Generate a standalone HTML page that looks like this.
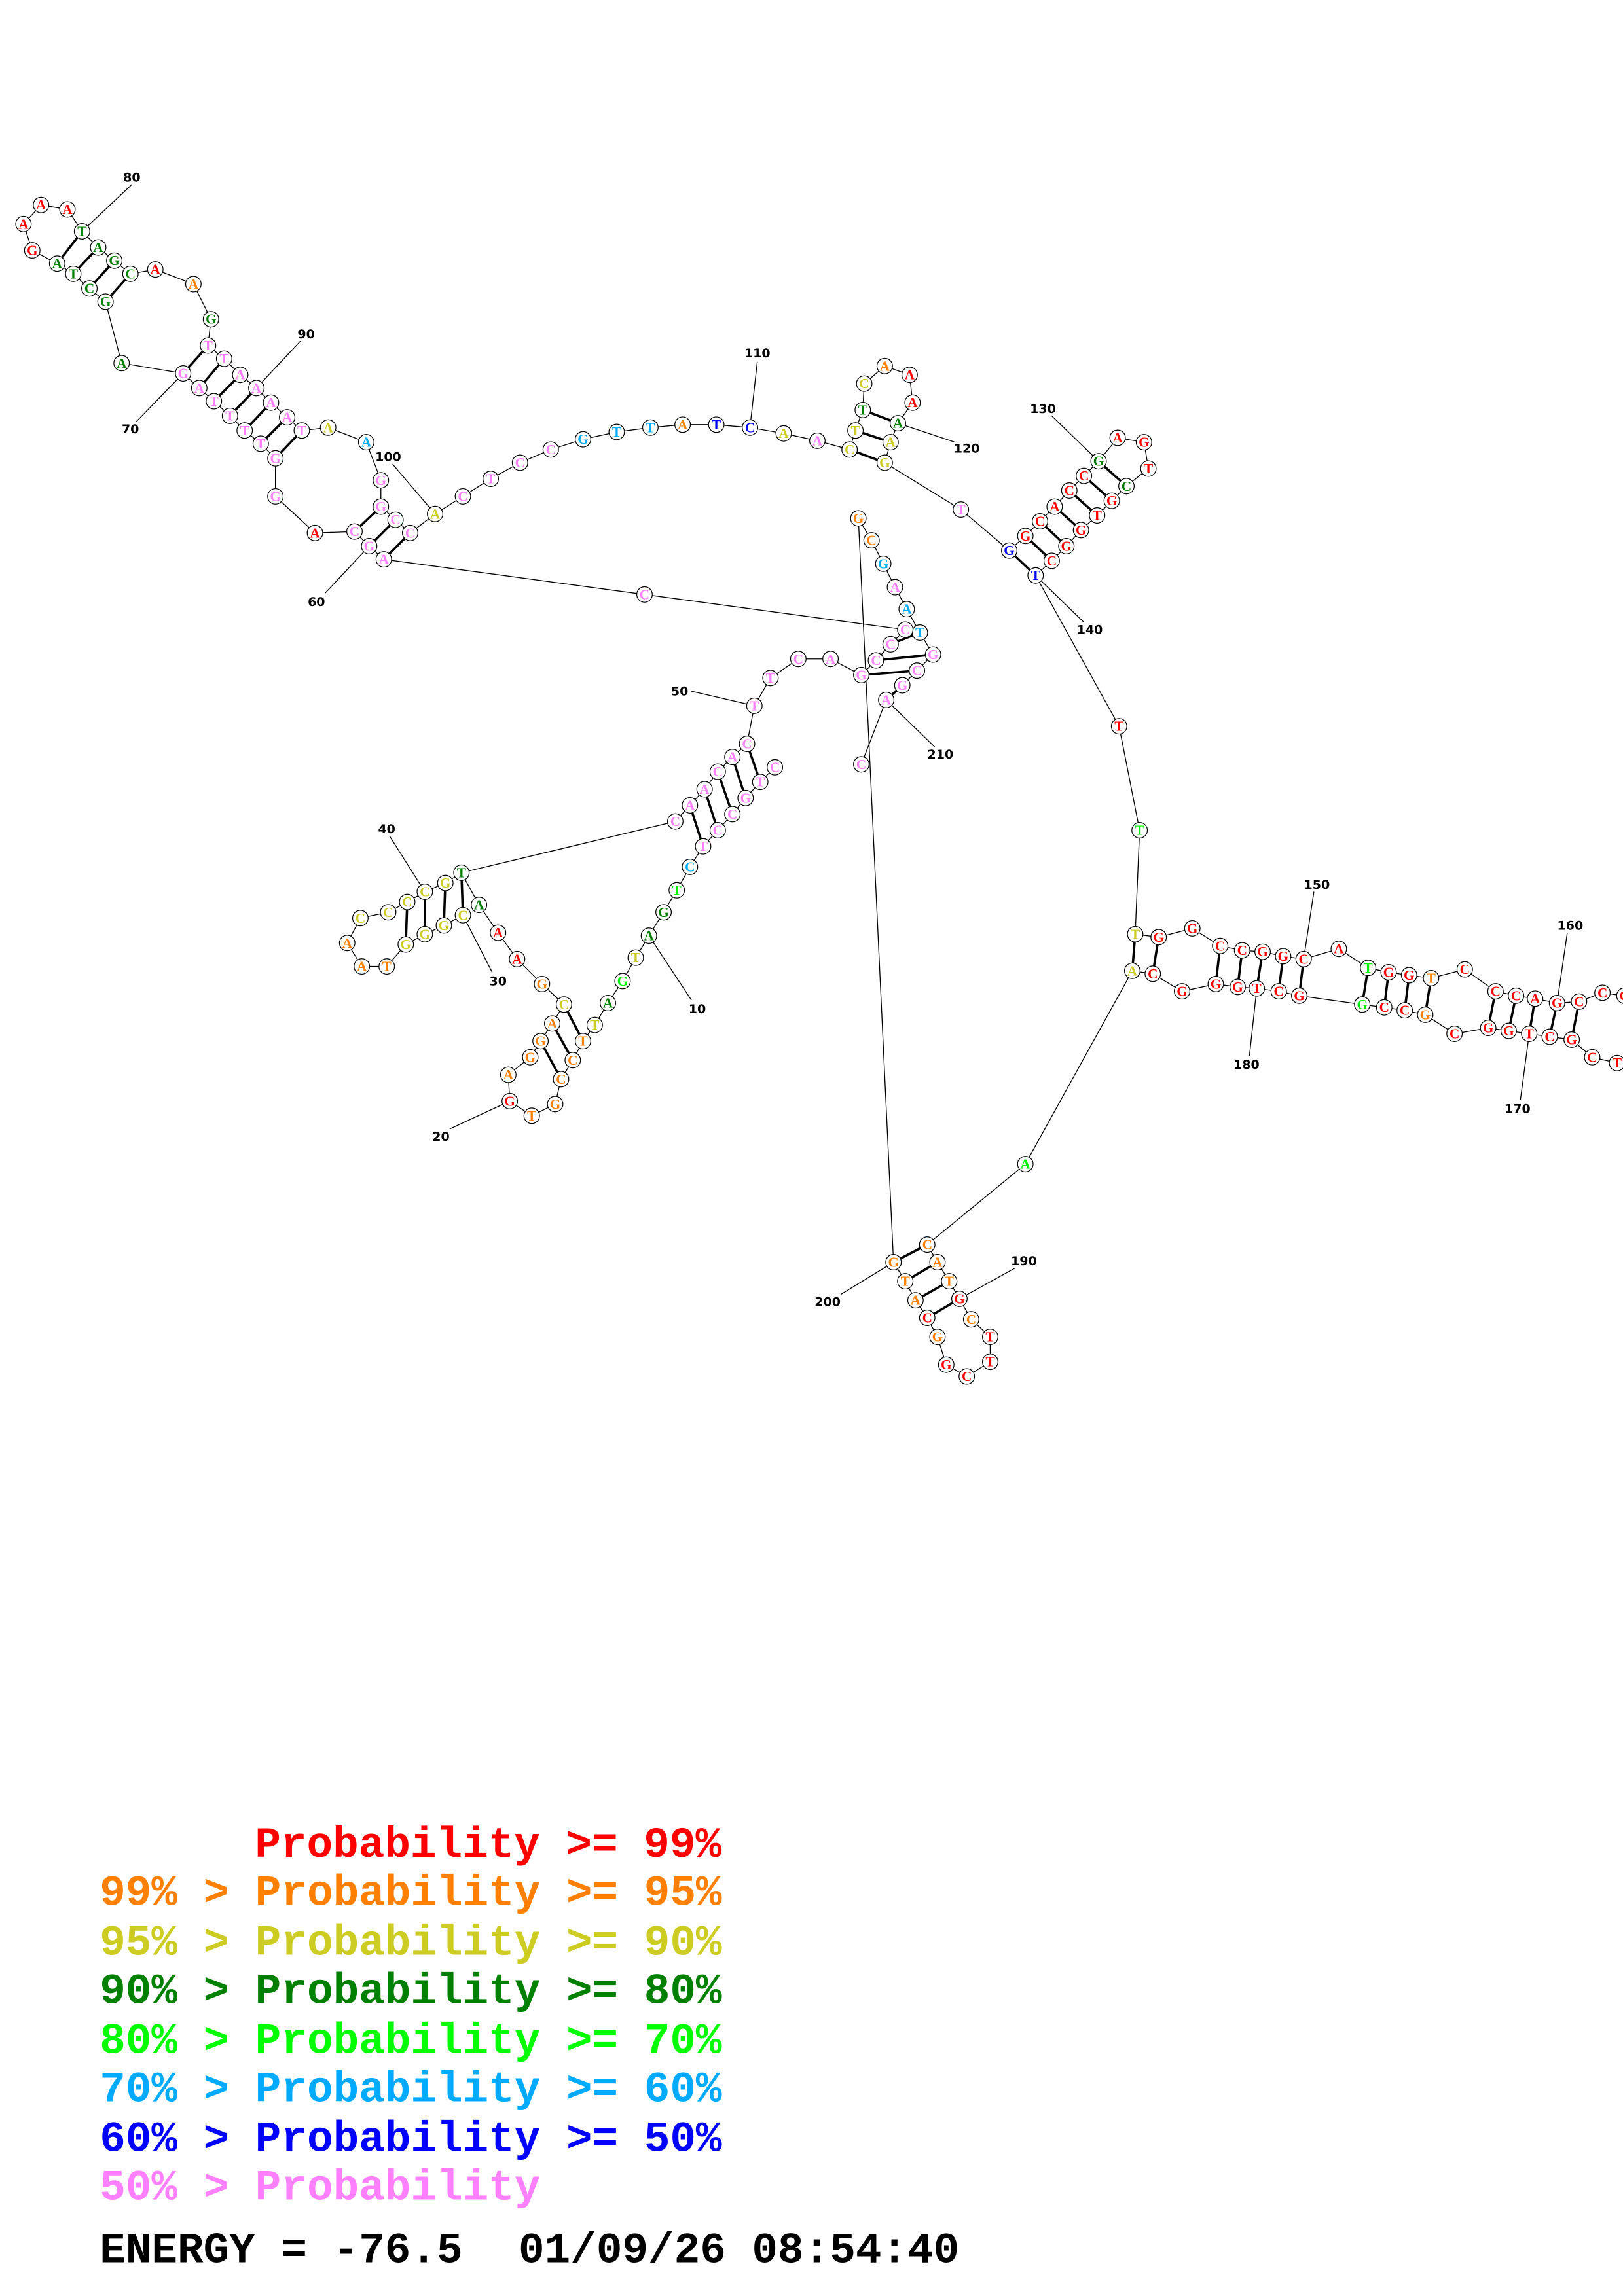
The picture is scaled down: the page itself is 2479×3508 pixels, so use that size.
<!DOCTYPE html>
<html><head><meta charset="utf-8"><style>
html,body{margin:0;padding:0;background:#fff}
svg{display:block}
.n circle{fill:#fff;stroke:#000;stroke-width:.55}
.n text{font-family:"Liberation Serif",serif;font-weight:bold;font-size:9.5px;text-anchor:middle;dominant-baseline:central}
.r{fill:#ff0000}.o{fill:#ff8000}.y{fill:#cccc22}.d{fill:#008000}.g{fill:#00ee00}.c{fill:#00aaff}.b{fill:#0000ff}.p{fill:#ff80ff}
.l{stroke:#000;stroke-width:.6;fill:none}
.bp{stroke:#000;stroke-width:1.6}
.lab{font-family:"DejaVu Sans","Liberation Sans",sans-serif;font-size:8.5px;font-weight:bold;text-anchor:middle}
.lg{font-family:"Liberation Mono",monospace;font-weight:bold;font-size:29.5px}
</style></head><body>
<svg width="2479" height="3508" viewBox="0 0 1108 1568" xmlns="http://www.w3.org/2000/svg">
<g class="l">
<polyline points="22,171 16,153 28,140 46,143 56,158"/>
<polyline points="22,171 39,180 50,187 61,197 72,206 83,248 125,255 136,265 146,274 157,284 167,294 178,303 188,313 188,339 215,364 242,363 252,373 262,382 440,406 618,430 628,432"/>
<polyline points="56,158 67,169 78,178 89,187 106,184 132,194 144,218 142,236 153,245 164,256 175,265 185,275 196,285 206,294 224,292 250,302 260,328 260,346 270,355 280,364 297,351 316,339 335,327 355,316 376,307 398,300 421,295 444,292 466,290 489,290 512,292 535,296 558,301 580,307 584,294 589,280 590,262 604,250 621,256 623,275 613,289 608,302 604,316 656,348 689,376 700,366 710,356 720,346 730,335 740,325 750,315 763,299 781,302 784,320 769,332 759,342 749,352 738,362 728,373 718,383 707,393 764,496 778,567 775,638 791,640 814,634 833,646 848,649 862,650 876,653 890,655 914,648 934,661 948,664 962,666 977,668 1000,662 1021,677 1035,680 1048,682 1063,685 1078,684 1094,678 1108,680"/>
<polyline points="1087,722 1073,710 1058,708 1044,706 1030,704 1016,702 993,706 973,693 959,690 945,688 930,686 887,680 873,677 858,675 845,674 830,672 807,677 787,665 773,663 700,795 633,850 640,862 648,875 655,887 663,901 676,913 676,930 660,940 646,932 640,913 633,900 625,888 618,875 610,862 586,354 595,369 603,385 611,401 619,416 628,432 637,447 626,458 616,468 605,478 588,522"/>
<polyline points="1087,722 1104,726"/>
<polyline points="608,440 598,451 588,461 567,450 545,450 526,463 515,482 510,508 519,534 529,524"/>
<polyline points="510,508 500,517 490,527 481,539 471,550 461,561 315,596 327,618 340,637 353,655 370,672 385,686 377,699 369,711 362,722 347,734 348,752 363,762 379,754 383,737 391,724 398,711 406,700 415,685 425,670 434,654 443,639 453,623 462,608 471,592 480,578 490,567 500,556 509,545 519,534"/>
<polyline points="315,596 304,603 290,609 278,616 265,623 246,627 237,644 247,660 264,660 277,645 290,638 303,632 316,625"/>
<polyline points="608,440 618,430"/>
<line x1="90" y1="126" x2="56" y2="158"/><line x1="205" y1="233" x2="175" y2="265"/><line x1="93" y1="288" x2="125" y2="255"/>
<line x1="268" y1="317" x2="297" y2="351"/><line x1="222" y1="405" x2="252" y2="373"/><line x1="517" y1="247" x2="512" y2="292"/>
<line x1="652" y1="302" x2="613" y2="289"/><line x1="718" y1="284" x2="750" y2="315"/><line x1="740" y1="425" x2="707" y2="393"/>
<line x1="472" y1="472" x2="515" y2="482"/><line x1="638" y1="510" x2="605" y2="478"/><line x1="266" y1="571" x2="290" y2="609"/>
<line x1="336" y1="664" x2="316" y2="625"/><line x1="472" y1="683" x2="443" y2="639"/><line x1="307" y1="771" x2="348" y2="752"/>
<line x1="897" y1="609" x2="890" y2="655"/><line x1="1070" y1="637" x2="1063" y2="685"/><line x1="853" y1="721" x2="858" y2="675"/>
<line x1="1038" y1="751" x2="1044" y2="706"/><line x1="693" y1="866" x2="655" y2="887"/><line x1="574" y1="884" x2="610" y2="862"/>
</g>
<g class="bp">
<line x1="56" y1="158" x2="39" y2="180"/><line x1="67" y1="169" x2="50" y2="187"/><line x1="78" y1="178" x2="61" y2="197"/><line x1="89" y1="187" x2="72" y2="206"/>
<line x1="142" y1="236" x2="125" y2="255"/><line x1="153" y1="245" x2="136" y2="265"/><line x1="164" y1="256" x2="146" y2="274"/><line x1="175" y1="265" x2="157" y2="284"/><line x1="185" y1="275" x2="167" y2="294"/><line x1="196" y1="285" x2="178" y2="303"/><line x1="206" y1="294" x2="188" y2="313"/>
<line x1="260" y1="346" x2="242" y2="363"/><line x1="270" y1="355" x2="252" y2="373"/><line x1="280" y1="364" x2="262" y2="382"/>
<line x1="584" y1="294" x2="608" y2="302"/><line x1="580" y1="307" x2="604" y2="316"/><line x1="589" y1="280" x2="613" y2="289"/>
<line x1="689" y1="376" x2="707" y2="393"/><line x1="700" y1="366" x2="718" y2="383"/><line x1="710" y1="356" x2="728" y2="373"/><line x1="720" y1="346" x2="738" y2="362"/><line x1="730" y1="335" x2="749" y2="352"/><line x1="740" y1="325" x2="759" y2="342"/><line x1="750" y1="315" x2="769" y2="332"/>
<line x1="775" y1="638" x2="773" y2="663"/><line x1="791" y1="640" x2="787" y2="665"/><line x1="833" y1="646" x2="830" y2="672"/><line x1="848" y1="649" x2="845" y2="674"/><line x1="862" y1="650" x2="858" y2="675"/><line x1="876" y1="653" x2="873" y2="677"/><line x1="890" y1="655" x2="887" y2="680"/>
<line x1="934" y1="661" x2="930" y2="686"/><line x1="948" y1="664" x2="945" y2="688"/><line x1="962" y1="666" x2="959" y2="690"/><line x1="977" y1="668" x2="973" y2="693"/>
<line x1="1021" y1="677" x2="1016" y2="702"/><line x1="1035" y1="680" x2="1030" y2="704"/><line x1="1048" y1="682" x2="1044" y2="706"/><line x1="1063" y1="685" x2="1058" y2="708"/><line x1="1078" y1="684" x2="1073" y2="710"/>
<line x1="633" y1="850" x2="610" y2="862"/><line x1="640" y1="862" x2="618" y2="875"/><line x1="648" y1="875" x2="625" y2="888"/><line x1="655" y1="887" x2="633" y2="900"/>
<line x1="628" y1="432" x2="608" y2="440"/><line x1="637" y1="447" x2="598" y2="451"/><line x1="626" y1="458" x2="588" y2="461"/><line x1="616" y1="468" x2="605" y2="478"/>
<line x1="510" y1="508" x2="519" y2="534"/><line x1="500" y1="517" x2="509" y2="545"/><line x1="490" y1="527" x2="500" y2="556"/><line x1="481" y1="539" x2="490" y2="567"/><line x1="471" y1="550" x2="480" y2="578"/>
<line x1="398" y1="711" x2="385" y2="686"/><line x1="391" y1="724" x2="377" y2="699"/><line x1="383" y1="737" x2="369" y2="711"/>
<line x1="315" y1="596" x2="316" y2="625"/><line x1="304" y1="603" x2="303" y2="632"/><line x1="290" y1="609" x2="290" y2="638"/><line x1="278" y1="616" x2="277" y2="645"/>
</g>
<g class="n">
<g transform="translate(16,153)"><circle r="5.3"/><text class="r">A</text></g>
<g transform="translate(28,140)"><circle r="5.3"/><text class="r">A</text></g>
<g transform="translate(46,143)"><circle r="5.3"/><text class="r">A</text></g>
<g transform="translate(22,171)"><circle r="5.3"/><text class="r">G</text></g>
<g transform="translate(56,158)"><circle r="5.3"/><text class="d">T</text></g>
<g transform="translate(67,169)"><circle r="5.3"/><text class="d">A</text></g>
<g transform="translate(39,180)"><circle r="5.3"/><text class="d">A</text></g>
<g transform="translate(78,178)"><circle r="5.3"/><text class="d">G</text></g>
<g transform="translate(50,187)"><circle r="5.3"/><text class="d">T</text></g>
<g transform="translate(89,187)"><circle r="5.3"/><text class="d">C</text></g>
<g transform="translate(61,197)"><circle r="5.3"/><text class="d">C</text></g>
<g transform="translate(72,206)"><circle r="5.3"/><text class="d">G</text></g>
<g transform="translate(106,184)"><circle r="5.3"/><text class="r">A</text></g>
<g transform="translate(132,194)"><circle r="5.3"/><text class="o">A</text></g>
<g transform="translate(144,218)"><circle r="5.3"/><text class="d">G</text></g>
<g transform="translate(83,248)"><circle r="5.3"/><text class="d">A</text></g>
<g transform="translate(125,255)"><circle r="5.3"/><text class="p">G</text></g>
<g transform="translate(142,236)"><circle r="5.3"/><text class="p">T</text></g>
<g transform="translate(153,245)"><circle r="5.3"/><text class="p">T</text></g>
<g transform="translate(136,265)"><circle r="5.3"/><text class="p">A</text></g>
<g transform="translate(164,256)"><circle r="5.3"/><text class="p">A</text></g>
<g transform="translate(146,274)"><circle r="5.3"/><text class="p">T</text></g>
<g transform="translate(175,265)"><circle r="5.3"/><text class="p">A</text></g>
<g transform="translate(185,275)"><circle r="5.3"/><text class="p">A</text></g>
<g transform="translate(157,284)"><circle r="5.3"/><text class="p">T</text></g>
<g transform="translate(167,294)"><circle r="5.3"/><text class="p">T</text></g>
<g transform="translate(196,285)"><circle r="5.3"/><text class="p">A</text></g>
<g transform="translate(206,294)"><circle r="5.3"/><text class="p">T</text></g>
<g transform="translate(178,303)"><circle r="5.3"/><text class="p">T</text></g>
<g transform="translate(188,313)"><circle r="5.3"/><text class="p">G</text></g>
<g transform="translate(224,292)"><circle r="5.3"/><text class="y">A</text></g>
<g transform="translate(250,302)"><circle r="5.3"/><text class="c">A</text></g>
<g transform="translate(188,339)"><circle r="5.3"/><text class="p">G</text></g>
<g transform="translate(215,364)"><circle r="5.3"/><text class="r">A</text></g>
<g transform="translate(260,328)"><circle r="5.3"/><text class="p">G</text></g>
<g transform="translate(260,346)"><circle r="5.3"/><text class="p">G</text></g>
<g transform="translate(242,363)"><circle r="5.3"/><text class="p">C</text></g>
<g transform="translate(270,355)"><circle r="5.3"/><text class="p">C</text></g>
<g transform="translate(252,373)"><circle r="5.3"/><text class="p">G</text></g>
<g transform="translate(280,364)"><circle r="5.3"/><text class="p">C</text></g>
<g transform="translate(262,382)"><circle r="5.3"/><text class="p">A</text></g>
<g transform="translate(297,351)"><circle r="5.3"/><text class="y">A</text></g>
<g transform="translate(316,339)"><circle r="5.3"/><text class="p">C</text></g>
<g transform="translate(335,327)"><circle r="5.3"/><text class="p">T</text></g>
<g transform="translate(355,316)"><circle r="5.3"/><text class="p">C</text></g>
<g transform="translate(376,307)"><circle r="5.3"/><text class="p">C</text></g>
<g transform="translate(398,300)"><circle r="5.3"/><text class="c">G</text></g>
<g transform="translate(421,295)"><circle r="5.3"/><text class="c">T</text></g>
<g transform="translate(444,292)"><circle r="5.3"/><text class="c">T</text></g>
<g transform="translate(466,290)"><circle r="5.3"/><text class="o">A</text></g>
<g transform="translate(489,290)"><circle r="5.3"/><text class="b">T</text></g>
<g transform="translate(512,292)"><circle r="5.3"/><text class="b">C</text></g>
<g transform="translate(535,296)"><circle r="5.3"/><text class="y">A</text></g>
<g transform="translate(558,301)"><circle r="5.3"/><text class="p">A</text></g>
<g transform="translate(580,307)"><circle r="5.3"/><text class="y">C</text></g>
<g transform="translate(604,316)"><circle r="5.3"/><text class="y">G</text></g>
<g transform="translate(608,302)"><circle r="5.3"/><text class="y">A</text></g>
<g transform="translate(584,294)"><circle r="5.3"/><text class="y">T</text></g>
<g transform="translate(589,280)"><circle r="5.3"/><text class="d">T</text></g>
<g transform="translate(613,289)"><circle r="5.3"/><text class="d">A</text></g>
<g transform="translate(623,275)"><circle r="5.3"/><text class="r">A</text></g>
<g transform="translate(621,256)"><circle r="5.3"/><text class="r">A</text></g>
<g transform="translate(604,250)"><circle r="5.3"/><text class="o">A</text></g>
<g transform="translate(590,262)"><circle r="5.3"/><text class="y">C</text></g>
<g transform="translate(656,348)"><circle r="5.3"/><text class="p">T</text></g>
<g transform="translate(689,376)"><circle r="5.3"/><text class="b">G</text></g>
<g transform="translate(707,393)"><circle r="5.3"/><text class="b">T</text></g>
<g transform="translate(718,383)"><circle r="5.3"/><text class="r">C</text></g>
<g transform="translate(700,366)"><circle r="5.3"/><text class="r">G</text></g>
<g transform="translate(728,373)"><circle r="5.3"/><text class="r">G</text></g>
<g transform="translate(710,356)"><circle r="5.3"/><text class="r">C</text></g>
<g transform="translate(738,362)"><circle r="5.3"/><text class="r">G</text></g>
<g transform="translate(720,346)"><circle r="5.3"/><text class="r">A</text></g>
<g transform="translate(749,352)"><circle r="5.3"/><text class="r">T</text></g>
<g transform="translate(730,335)"><circle r="5.3"/><text class="r">C</text></g>
<g transform="translate(759,342)"><circle r="5.3"/><text class="r">G</text></g>
<g transform="translate(740,325)"><circle r="5.3"/><text class="r">C</text></g>
<g transform="translate(769,332)"><circle r="5.3"/><text class="d">C</text></g>
<g transform="translate(750,315)"><circle r="5.3"/><text class="d">G</text></g>
<g transform="translate(784,320)"><circle r="5.3"/><text class="r">T</text></g>
<g transform="translate(781,302)"><circle r="5.3"/><text class="r">G</text></g>
<g transform="translate(763,299)"><circle r="5.3"/><text class="r">A</text></g>
<g transform="translate(764,496)"><circle r="5.3"/><text class="r">T</text></g>
<g transform="translate(778,567)"><circle r="5.3"/><text class="g">T</text></g>
<g transform="translate(775,638)"><circle r="5.3"/><text class="y">T</text></g>
<g transform="translate(773,663)"><circle r="5.3"/><text class="y">A</text></g>
<g transform="translate(791,640)"><circle r="5.3"/><text class="r">G</text></g>
<g transform="translate(787,665)"><circle r="5.3"/><text class="r">C</text></g>
<g transform="translate(814,634)"><circle r="5.3"/><text class="r">G</text></g>
<g transform="translate(807,677)"><circle r="5.3"/><text class="r">G</text></g>
<g transform="translate(833,646)"><circle r="5.3"/><text class="r">C</text></g>
<g transform="translate(830,672)"><circle r="5.3"/><text class="r">G</text></g>
<g transform="translate(848,649)"><circle r="5.3"/><text class="r">C</text></g>
<g transform="translate(845,674)"><circle r="5.3"/><text class="r">G</text></g>
<g transform="translate(862,650)"><circle r="5.3"/><text class="r">G</text></g>
<g transform="translate(858,675)"><circle r="5.3"/><text class="r">T</text></g>
<g transform="translate(876,653)"><circle r="5.3"/><text class="r">G</text></g>
<g transform="translate(873,677)"><circle r="5.3"/><text class="r">C</text></g>
<g transform="translate(890,655)"><circle r="5.3"/><text class="r">C</text></g>
<g transform="translate(887,680)"><circle r="5.3"/><text class="r">G</text></g>
<g transform="translate(914,648)"><circle r="5.3"/><text class="r">A</text></g>
<g transform="translate(934,661)"><circle r="5.3"/><text class="g">T</text></g>
<g transform="translate(930,686)"><circle r="5.3"/><text class="g">G</text></g>
<g transform="translate(948,664)"><circle r="5.3"/><text class="r">G</text></g>
<g transform="translate(945,688)"><circle r="5.3"/><text class="r">C</text></g>
<g transform="translate(962,666)"><circle r="5.3"/><text class="r">G</text></g>
<g transform="translate(959,690)"><circle r="5.3"/><text class="r">C</text></g>
<g transform="translate(977,668)"><circle r="5.3"/><text class="o">T</text></g>
<g transform="translate(973,693)"><circle r="5.3"/><text class="o">G</text></g>
<g transform="translate(1000,662)"><circle r="5.3"/><text class="r">C</text></g>
<g transform="translate(993,706)"><circle r="5.3"/><text class="r">C</text></g>
<g transform="translate(1021,677)"><circle r="5.3"/><text class="r">C</text></g>
<g transform="translate(1016,702)"><circle r="5.3"/><text class="r">G</text></g>
<g transform="translate(1035,680)"><circle r="5.3"/><text class="r">C</text></g>
<g transform="translate(1030,704)"><circle r="5.3"/><text class="r">G</text></g>
<g transform="translate(1048,682)"><circle r="5.3"/><text class="r">A</text></g>
<g transform="translate(1044,706)"><circle r="5.3"/><text class="r">T</text></g>
<g transform="translate(1063,685)"><circle r="5.3"/><text class="r">G</text></g>
<g transform="translate(1058,708)"><circle r="5.3"/><text class="r">C</text></g>
<g transform="translate(1078,684)"><circle r="5.3"/><text class="r">C</text></g>
<g transform="translate(1073,710)"><circle r="5.3"/><text class="r">G</text></g>
<g transform="translate(1094,678)"><circle r="5.3"/><text class="r">C</text></g>
<g transform="translate(1087,722)"><circle r="5.3"/><text class="r">C</text></g>
<g transform="translate(1104,726)"><circle r="5.3"/><text class="r">T</text></g>
<g transform="translate(1109,680)"><circle r="5.3"/><text class="r">C</text></g>
<g transform="translate(700,795)"><circle r="5.3"/><text class="g">A</text></g>
<g transform="translate(633,850)"><circle r="5.3"/><text class="o">C</text></g>
<g transform="translate(610,862)"><circle r="5.3"/><text class="o">G</text></g>
<g transform="translate(640,862)"><circle r="5.3"/><text class="o">A</text></g>
<g transform="translate(618,875)"><circle r="5.3"/><text class="o">T</text></g>
<g transform="translate(648,875)"><circle r="5.3"/><text class="o">T</text></g>
<g transform="translate(625,888)"><circle r="5.3"/><text class="o">A</text></g>
<g transform="translate(655,887)"><circle r="5.3"/><text class="r">G</text></g>
<g transform="translate(633,900)"><circle r="5.3"/><text class="r">C</text></g>
<g transform="translate(663,901)"><circle r="5.3"/><text class="o">C</text></g>
<g transform="translate(640,913)"><circle r="5.3"/><text class="o">G</text></g>
<g transform="translate(676,913)"><circle r="5.3"/><text class="r">T</text></g>
<g transform="translate(646,932)"><circle r="5.3"/><text class="r">G</text></g>
<g transform="translate(660,940)"><circle r="5.3"/><text class="r">C</text></g>
<g transform="translate(676,930)"><circle r="5.3"/><text class="r">T</text></g>
<g transform="translate(586,354)"><circle r="5.3"/><text class="o">G</text></g>
<g transform="translate(595,369)"><circle r="5.3"/><text class="o">C</text></g>
<g transform="translate(603,385)"><circle r="5.3"/><text class="c">G</text></g>
<g transform="translate(611,401)"><circle r="5.3"/><text class="p">A</text></g>
<g transform="translate(619,416)"><circle r="5.3"/><text class="c">A</text></g>
<g transform="translate(628,432)"><circle r="5.3"/><text class="c">T</text></g>
<g transform="translate(637,447)"><circle r="5.3"/><text class="p">G</text></g>
<g transform="translate(618,430)"><circle r="5.3"/><text class="p">C</text></g>
<g transform="translate(608,440)"><circle r="5.3"/><text class="p">C</text></g>
<g transform="translate(626,458)"><circle r="5.3"/><text class="p">C</text></g>
<g transform="translate(598,451)"><circle r="5.3"/><text class="p">C</text></g>
<g transform="translate(616,468)"><circle r="5.3"/><text class="p">G</text></g>
<g transform="translate(588,461)"><circle r="5.3"/><text class="p">G</text></g>
<g transform="translate(605,478)"><circle r="5.3"/><text class="p">A</text></g>
<g transform="translate(588,522)"><circle r="5.3"/><text class="p">C</text></g>
<g transform="translate(440,406)"><circle r="5.3"/><text class="p">C</text></g>
<g transform="translate(567,450)"><circle r="5.3"/><text class="p">A</text></g>
<g transform="translate(545,450)"><circle r="5.3"/><text class="p">C</text></g>
<g transform="translate(526,463)"><circle r="5.3"/><text class="p">T</text></g>
<g transform="translate(515,482)"><circle r="5.3"/><text class="p">T</text></g>
<g transform="translate(510,508)"><circle r="5.3"/><text class="p">C</text></g>
<g transform="translate(529,524)"><circle r="5.3"/><text class="p">C</text></g>
<g transform="translate(500,517)"><circle r="5.3"/><text class="p">A</text></g>
<g transform="translate(519,534)"><circle r="5.3"/><text class="p">T</text></g>
<g transform="translate(490,527)"><circle r="5.3"/><text class="p">C</text></g>
<g transform="translate(509,545)"><circle r="5.3"/><text class="p">G</text></g>
<g transform="translate(481,539)"><circle r="5.3"/><text class="p">A</text></g>
<g transform="translate(500,556)"><circle r="5.3"/><text class="p">C</text></g>
<g transform="translate(471,550)"><circle r="5.3"/><text class="p">A</text></g>
<g transform="translate(490,567)"><circle r="5.3"/><text class="p">C</text></g>
<g transform="translate(461,561)"><circle r="5.3"/><text class="p">C</text></g>
<g transform="translate(480,578)"><circle r="5.3"/><text class="p">T</text></g>
<g transform="translate(471,592)"><circle r="5.3"/><text class="c">C</text></g>
<g transform="translate(462,608)"><circle r="5.3"/><text class="g">T</text></g>
<g transform="translate(453,623)"><circle r="5.3"/><text class="d">G</text></g>
<g transform="translate(443,639)"><circle r="5.3"/><text class="d">A</text></g>
<g transform="translate(434,654)"><circle r="5.3"/><text class="y">T</text></g>
<g transform="translate(425,670)"><circle r="5.3"/><text class="g">G</text></g>
<g transform="translate(415,685)"><circle r="5.3"/><text class="d">A</text></g>
<g transform="translate(406,700)"><circle r="5.3"/><text class="y">T</text></g>
<g transform="translate(398,711)"><circle r="5.3"/><text class="o">T</text></g>
<g transform="translate(385,686)"><circle r="5.3"/><text class="y">C</text></g>
<g transform="translate(391,724)"><circle r="5.3"/><text class="o">C</text></g>
<g transform="translate(377,699)"><circle r="5.3"/><text class="o">A</text></g>
<g transform="translate(383,737)"><circle r="5.3"/><text class="o">C</text></g>
<g transform="translate(369,711)"><circle r="5.3"/><text class="o">G</text></g>
<g transform="translate(379,754)"><circle r="5.3"/><text class="o">G</text></g>
<g transform="translate(362,722)"><circle r="5.3"/><text class="o">G</text></g>
<g transform="translate(347,734)"><circle r="5.3"/><text class="o">A</text></g>
<g transform="translate(348,752)"><circle r="5.3"/><text class="r">G</text></g>
<g transform="translate(363,762)"><circle r="5.3"/><text class="o">T</text></g>
<g transform="translate(370,672)"><circle r="5.3"/><text class="o">G</text></g>
<g transform="translate(353,655)"><circle r="5.3"/><text class="r">A</text></g>
<g transform="translate(340,637)"><circle r="5.3"/><text class="r">A</text></g>
<g transform="translate(327,618)"><circle r="5.3"/><text class="d">A</text></g>
<g transform="translate(315,596)"><circle r="5.3"/><text class="d">T</text></g>
<g transform="translate(316,625)"><circle r="5.3"/><text class="y">C</text></g>
<g transform="translate(304,603)"><circle r="5.3"/><text class="y">G</text></g>
<g transform="translate(303,632)"><circle r="5.3"/><text class="y">G</text></g>
<g transform="translate(290,609)"><circle r="5.3"/><text class="y">C</text></g>
<g transform="translate(290,638)"><circle r="5.3"/><text class="y">G</text></g>
<g transform="translate(278,616)"><circle r="5.3"/><text class="y">C</text></g>
<g transform="translate(277,645)"><circle r="5.3"/><text class="y">G</text></g>
<g transform="translate(265,623)"><circle r="5.3"/><text class="y">C</text></g>
<g transform="translate(246,627)"><circle r="5.3"/><text class="y">C</text></g>
<g transform="translate(237,644)"><circle r="5.3"/><text class="o">A</text></g>
<g transform="translate(247,660)"><circle r="5.3"/><text class="o">A</text></g>
<g transform="translate(264,660)"><circle r="5.3"/><text class="o">T</text></g>
</g>
<g class="lab">
<text x="90" y="124">80</text><text x="209" y="231">90</text><text x="89" y="296">70</text><text x="265" y="315">100</text>
<text x="216" y="414">60</text><text x="517" y="244">110</text><text x="660" y="309">120</text><text x="712" y="282">130</text>
<text x="744" y="433">140</text><text x="464" y="475">50</text><text x="642" y="518">210</text><text x="264" y="569">40</text>
<text x="340" y="673">30</text><text x="476" y="692">10</text><text x="301" y="779">20</text><text x="899" y="607">150</text>
<text x="1072" y="635">160</text><text x="851" y="730">180</text><text x="1036" y="760">170</text><text x="699" y="864">190</text><text x="565" y="892">200</text>
</g>
<g class="lg">
<text x="174" y="1268" fill="#ff0000">Probability &gt;= 99%</text>
<text x="68" y="1301" fill="#ff8000">99% &gt; Probability &gt;= 95%</text>
<text x="68" y="1335" fill="#cccc22">95% &gt; Probability &gt;= 90%</text>
<text x="68" y="1368" fill="#008000">90% &gt; Probability &gt;= 80%</text>
<text x="68" y="1402" fill="#00ff00">80% &gt; Probability &gt;= 70%</text>
<text x="68" y="1435" fill="#00aaff">70% &gt; Probability &gt;= 60%</text>
<text x="68" y="1469" fill="#0000ff">60% &gt; Probability &gt;= 50%</text>
<text x="68" y="1502" fill="#ff80ff">50% &gt; Probability</text>
<text x="68" y="1545" fill="#000">ENERGY = -76.5</text>
<text x="354" y="1545" fill="#000">01/09/26 08:54:40</text>
</g>
</svg>
</body></html>
